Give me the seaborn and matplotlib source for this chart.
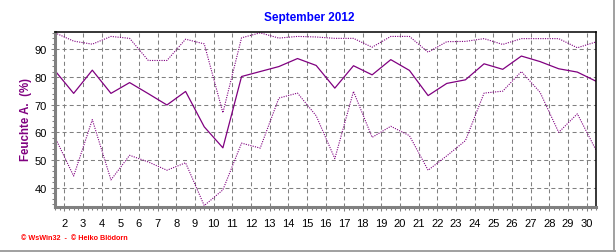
import matplotlib
matplotlib.use("Agg")
import matplotlib.pyplot as plt
from matplotlib.lines import Line2D
from matplotlib.ticker import MultipleLocator, FixedLocator
import seaborn as sns
import pandas as pd

days = list(range(1, 31))
hum_max = [96.0, 93.0, 91.9, 94.7, 94.0, 86.0, 86.0, 93.7, 92.0, 67.1,
           94.2, 96.0, 94.1, 94.7, 94.5, 94.0, 94.0, 90.8, 94.7, 94.7,
           89.0, 92.8, 92.9, 93.9, 91.8, 93.9, 93.9, 93.9, 90.6, 92.7]
hum_mean = [82.3, 74.1, 82.5, 74.1, 78.0, 74.0, 69.9, 74.8, 62.0, 54.4,
            80.2, 82.0, 83.8, 86.7, 84.2, 76.0, 84.1, 80.8, 86.3, 82.4,
            73.3, 77.7, 79.0, 84.8, 82.8, 87.6, 85.6, 83.0, 81.8, 78.5]
hum_min = [58.2, 44.2, 64.6, 42.8, 51.7, 49.3, 46.3, 49.0, 33.5, 39.2,
           56.1, 54.3, 72.4, 74.2, 66.0, 50.5, 74.8, 58.2, 62.2, 58.8,
           46.3, 51.5, 57.0, 74.2, 74.9, 82.0, 74.5, 60.0, 66.7, 53.6]
x_tick_labels = [str(d) for d in range(2, 31)]
y_ticks = [40, 50, 60, 70, 80, 90]

title = "September 2012"
ylabel = "Feuchte A.  (%)"
footer = "\u00a9 WsWin32  -  \u00a9 Heiko Bl\u00f6dorn"

sns.set_theme(style="white")
plt.rcParams['font.family'] = ['Liberation Sans', 'DejaVu Sans']
plt.rcParams['lines.scale_dashes'] = False

df = pd.DataFrame({"pos": [d + 0.5 for d in days],
                   "max": hum_max, "mean": hum_mean, "min": hum_min})

fig = plt.figure(figsize=(6.16, 2.53), dpi=100)
fig.patch.set_facecolor("white")
ax = fig.add_axes([55 / 616, 1 - 208 / 253, (596 - 55) / 616, (208 - 33) / 253])
ax.set_facecolor("white")

purple = "#800080"
sns.lineplot(data=df, x="pos", y="max", ax=ax, color=purple, lw=0.8,
             linestyle=(0, (0.8, 0.9)))
sns.lineplot(data=df, x="pos", y="min", ax=ax, color=purple, lw=0.8,
             linestyle=(0, (0.8, 0.9)))
sns.lineplot(data=df, x="pos", y="mean", ax=ax, color=purple, lw=0.9)

ax.set_xlim(1.5, 30.5)
ax.set_ylim(33.0, 96.3)

ax.xaxis.set_major_locator(FixedLocator(list(range(2, 31))))
ax.set_xticklabels(x_tick_labels)
ax.xaxis.set_minor_locator(MultipleLocator(0.25))
ax.yaxis.set_major_locator(FixedLocator(y_ticks))
ax.yaxis.set_minor_locator(MultipleLocator(2))

ax.grid(True, which="major", color="#808080", lw=0.75,
        linestyle=(0, (2.9, 2.2)))
ax.set_axisbelow(True)

ax.tick_params(axis="both", which="major", direction="out", length=3,
               width=0.75, color="#808080", labelsize=8, labelcolor="black",
               bottom=True, left=True)
ax.tick_params(axis="both", which="minor", direction="out", length=2,
               width=0.75, color="#808080", bottom=True, left=True)
ax.tick_params(axis="x", pad=5)
ax.tick_params(axis="y", pad=3)

for side in ["left", "bottom"]:
    ax.spines[side].set_color("#808080")
    ax.spines[side].set_linewidth(2.2)
for side in ["top", "right"]:
    ax.spines[side].set_color("black")
    ax.spines[side].set_linewidth(1.1)

ax.set_xlabel("")
ax.set_ylabel("")

fig.text(309 / 616, 1 - 18.5 / 253, title, ha="center", va="center",
         color="#0000FF", fontsize=8.5, fontweight="bold")
fig.text(26 / 616, 1 - 120 / 253, ylabel, ha="center", va="center",
         rotation=90, color=purple, fontsize=8.3, fontweight="bold")
fig.text(21 / 616, 1 - 238.5 / 253, footer, ha="left", va="center",
         color="#FF0000", fontsize=5.2, fontweight="bold")

# outer frame on right and bottom
fig.add_artist(Line2D([613.5 / 616, 613.5 / 616], [0, 1], transform=fig.transFigure,
                      color="#A0A0A0", lw=1.4))
fig.add_artist(Line2D([0, 1], [1.5 / 253, 1.5 / 253], transform=fig.transFigure,
                      color="#A0A0A0", lw=1.4))

fig.savefig("out.png", dpi=100, facecolor="white")
